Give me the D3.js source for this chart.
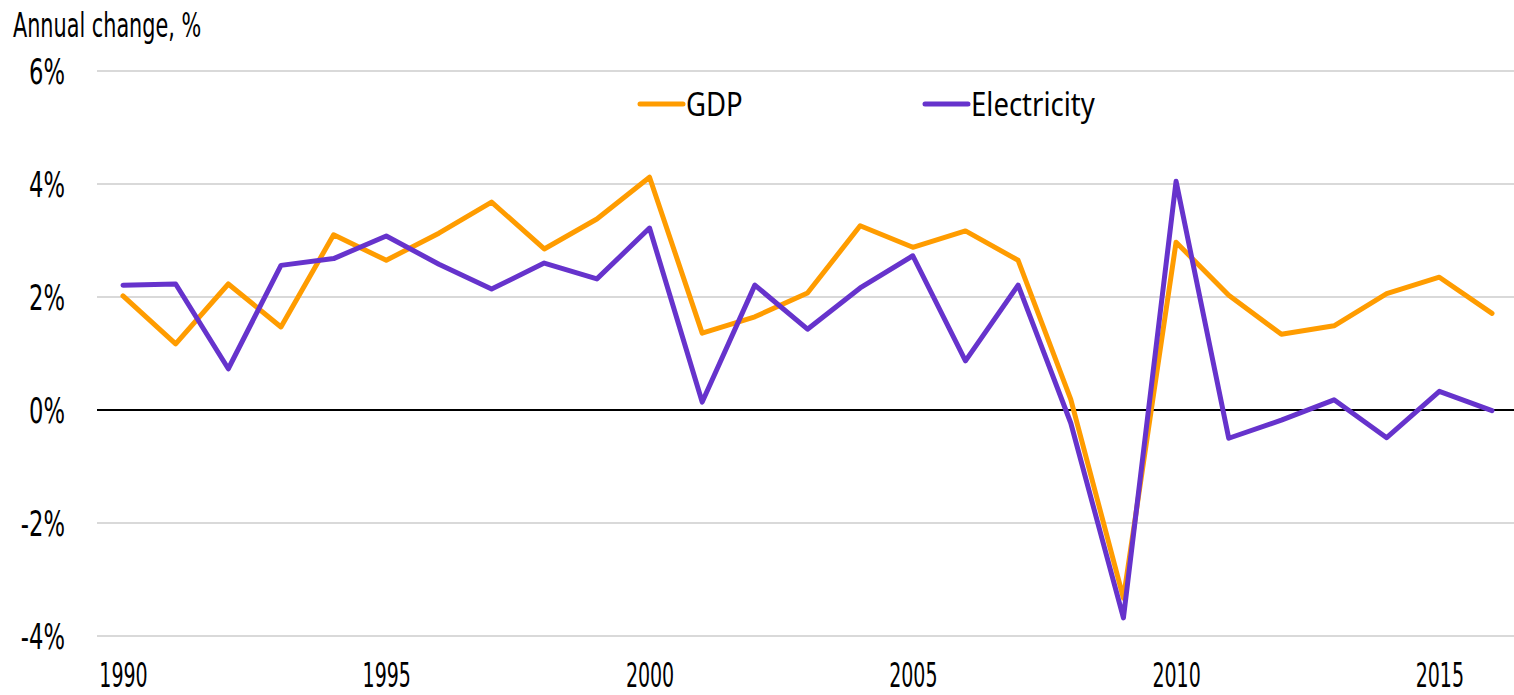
<!DOCTYPE html>
<html>
<head>
<meta charset="utf-8">
<script src="https://cdn.jsdelivr.net/npm/d3@7"></script>
<style>
  html, body { margin: 0; padding: 0; background: #fff; }
  svg { display: block; }
  .narrow { font-family: "DejaVu Sans Condensed", "Liberation Sans Narrow", "Liberation Sans", sans-serif; }
  .legend { font-family: "Noto Sans", "Open Sans", sans-serif; }
</style>
</head>
<body>
<svg id="chart" width="1514" height="695"></svg>
<script>
// Annual percentage change of GDP and electricity consumption, 1990–2016
const years = d3.range(1990, 2017);
const gdp = [2.02, 1.17, 2.23, 1.47, 3.10, 2.65, 3.13, 3.68, 2.85, 3.38,
             4.12, 1.36, 1.65, 2.07, 3.26, 2.88, 3.17, 2.65, 0.19, -3.33,
             2.97, 2.03, 1.34, 1.49, 2.06, 2.35, 1.71];
const electricity = [2.21, 2.23, 0.73, 2.56, 2.68, 3.08, 2.58, 2.14, 2.60, 2.32,
                     3.22, 0.14, 2.21, 1.43, 2.16, 2.73, 0.87, 2.21, -0.23, -3.68,
                     4.05, -0.50, -0.18, 0.18, -0.49, 0.33, -0.01];
const yTicks = [-4, -2, 0, 2, 4, 6];
const xTicks = [1990, 1995, 2000, 2005, 2010, 2015];
const seriesNames = ["GDP", "Electricity"];
const colors = ["#ff9c00", "#6633cc"];

const svg = d3.select("#chart");
const left = 97, right = 1514;

const x = d3.scaleLinear().domain([1990, 2016]).range([123, 1492]);
const y = d3.scaleLinear().domain([-4, 6]).range([636, 71]);

// Gridlines
svg.append("g")
  .selectAll("line")
  .data(yTicks.filter(d => d !== 0))
  .join("line")
  .attr("x1", left).attr("x2", right)
  .attr("y1", d => y(d)).attr("y2", d => y(d))
  .attr("stroke", "#d9d9d9").attr("stroke-width", 2);

// Zero baseline
svg.append("line")
  .attr("x1", left).attr("x2", right)
  .attr("y1", y(0)).attr("y2", y(0))
  .attr("stroke", "#000").attr("stroke-width", 2);

// Y axis labels
const yAxis = d3.axisLeft(y).tickValues(yTicks).tickFormat(d => d + "%").tickSize(0).tickPadding(0);
const gy = svg.append("g").attr("transform", `translate(65,0)`).call(yAxis);
gy.select(".domain").remove();
gy.selectAll("text")
  .attr("class", "narrow")
  .attr("x", null).attr("dy", "0.36em")
  .attr("font-size", 36).attr("fill", "#000")
  .attr("transform", "scale(0.70,1)");

// X axis labels
const xAxis = d3.axisBottom(x).tickValues(xTicks).tickFormat(d3.format("d")).tickSize(0).tickPadding(0);
const gx = svg.append("g").attr("transform", `translate(0,687)`).call(xAxis);
gx.select(".domain").remove();
gx.selectAll("text")
  .attr("class", "narrow")
  .attr("y", 0).attr("dy", 0)
  .attr("font-size", 33).attr("fill", "#000")
  .attr("transform", "scale(0.64,1)");

// Axis title
svg.append("text")
  .attr("class", "narrow")
  .attr("x", 13).attr("y", 37)
  .attr("font-size", 33)
  .attr("transform", "translate(13,0) scale(0.70,1) translate(-13,0)")
  .text("Annual change, %");

// Lines
const line = d3.line().x((d, i) => x(years[i])).y(d => y(d));
[gdp, electricity].forEach((s, k) => {
  svg.append("path")
    .datum(s)
    .attr("d", line)
    .attr("fill", "none")
    .attr("stroke", colors[k])
    .attr("stroke-width", 5)
    .attr("stroke-linejoin", "round")
    .attr("stroke-linecap", "round");
});

// Legend
const legendX = [640, 925];
seriesNames.forEach((name, k) => {
  const g = svg.append("g").attr("transform", `translate(${legendX[k]},104)`);
  g.append("line").attr("x1", 0).attr("x2", 43).attr("y1", 0).attr("y2", 0)
    .attr("stroke", colors[k]).attr("stroke-width", 5).attr("stroke-linecap", "round");
  g.append("text")
    .attr("class", "legend")
    .attr("x", 46).attr("y", 12)
    .attr("font-size", 32)
    .attr("transform", "translate(46,0) scale(0.86,1) translate(-46,0)")
    .text(name);
});
</script>
</body>
</html>
